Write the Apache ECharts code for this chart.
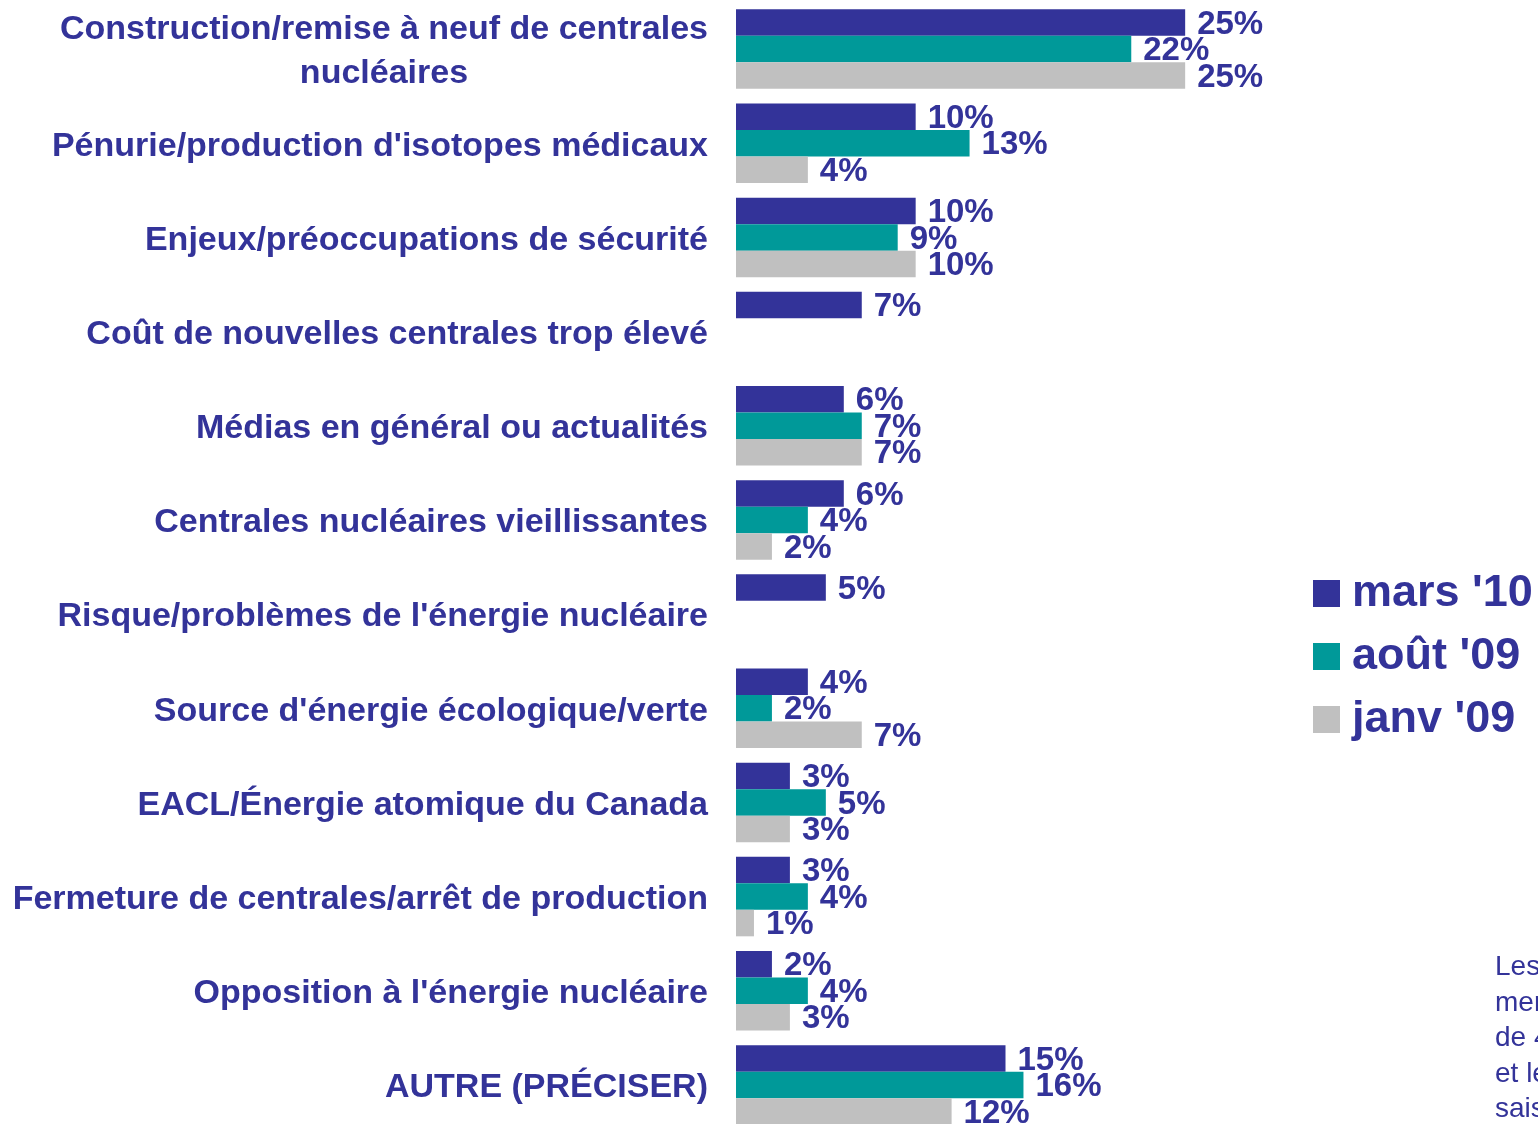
<!DOCTYPE html>
<html>
<head>
<meta charset="utf-8">
<script src="https://cdn.jsdelivr.net/npm/echarts@6/dist/echarts.min.js"></script>
<style>
  html, body { margin: 0; padding: 0; background: #fff; overflow: hidden; }
  #chart { width: 1538px; height: 1124px; }
</style>
</head>
<body>
<div id="chart"></div>
<script>
// catégories (de haut en bas)
const categories = [
  "Construction/remise à neuf de centrales\nnucléaires",
  "Pénurie/production d'isotopes médicaux",
  "Enjeux/préoccupations de sécurité",
  "Coût de nouvelles centrales trop élevé",
  "Médias en général ou actualités",
  "Centrales nucléaires vieillissantes",
  "Risque/problèmes de l'énergie nucléaire",
  "Source d'énergie écologique/verte",
  "EACL/Énergie atomique du Canada",
  "Fermeture de centrales/arrêt de production",
  "Opposition à l'énergie nucléaire",
  "AUTRE (PRÉCISER)"
]

const seriesNames = ["mars '10", "août '09", "janv '09"]
const mars10 = [25, 10, 10, 7, 6, 6, 5, 4, 3, 3, 2, 15]
const aout09 = [22, 13, 9, "-", 7, 4, "-", 2, 5, 4, 4, 16]
const janv09 = [25, 4, 10, "-", 7, 2, "-", 7, 3, 1, 3, 12]

const noteLines = ["Les réponses", "mentionnées par moins", "de 4% des répondants", "et les refus ne sont pas", "saisis"]

const BLUE = "#333399"
const FONT = "'Liberation Sans', Arial, sans-serif"

let myChart = echarts.init(document.getElementById("chart"))

function makeSeries(name, values, color) {
  return {
    name: name,
    type: "bar",
    data: values,
    barGap: "0%",
    barCategoryGap: "15.6%",
    itemStyle: { color: color },
    label: {
      show: true,
      position: "right",
      distance: 12,
      offset: [0, 2],
      formatter: "{c}%",
      color: BLUE,
      fontFamily: FONT,
      fontWeight: "bold",
      fontSize: 33,
    },
  }
}

myChart.setOption({
  animation: false,
  backgroundColor: "#fff",
  title: {
    text: noteLines.join("\n"),
    left: 1495,
    top: 950,
    padding: 0,
    textStyle: {
      color: BLUE,
      fontFamily: FONT,
      fontWeight: "normal",
      fontSize: 28,
      lineHeight: 35.5,
    },
  },
  legend: {
    orient: "vertical",
    left: 1313,
    top: 571,
    icon: "rect",
    itemWidth: 27,
    itemHeight: 27,
    itemGap: 18,
    padding: 0,
    data: seriesNames,
    textStyle: {
      color: BLUE,
      fontFamily: FONT,
      fontWeight: "bold",
      fontSize: 45,
      padding: [0, 0, 0, 7],
    },
  },
  grid: {
    left: 736,
    width: 539,
    top: 2,
    height: 1130,
    outerBoundsMode: "none",
    containLabel: false,
  },
  xAxis: {
    type: "value",
    min: 0,
    max: 30,
    show: false,
    splitLine: { show: false },
  },
  yAxis: {
    type: "category",
    inverse: true,
    data: categories,
    axisLine: { show: false },
    axisTick: { show: false },
    axisLabel: {
      margin: 28,
      color: BLUE,
      fontFamily: FONT,
      fontWeight: "bold",
      fontSize: 34,
      lineHeight: 44,
      padding: [6, 0, 0, 0],
      formatter: function (value) {
        let lines = value.split("\n")
        if (lines.length === 1) return value
        // ligne suivante centrée sous la première
        return lines.map((l, i) => (i === 0 ? "{a|" + l + "}" : "{c|" + l + "}")).join("\n")
      },
      rich: {
        a: { color: BLUE, fontFamily: FONT, fontWeight: "bold", fontSize: 34, lineHeight: 44 },
        c: { color: BLUE, fontFamily: FONT, fontWeight: "bold", fontSize: 34, lineHeight: 44, align: "center" },
      },
    },
  },
  series: [
    makeSeries(seriesNames[0], mars10, "#333399"),
    makeSeries(seriesNames[1], aout09, "#009999"),
    makeSeries(seriesNames[2], janv09, "#C0C0C0"),
  ],
})
</script>
</body>
</html>
